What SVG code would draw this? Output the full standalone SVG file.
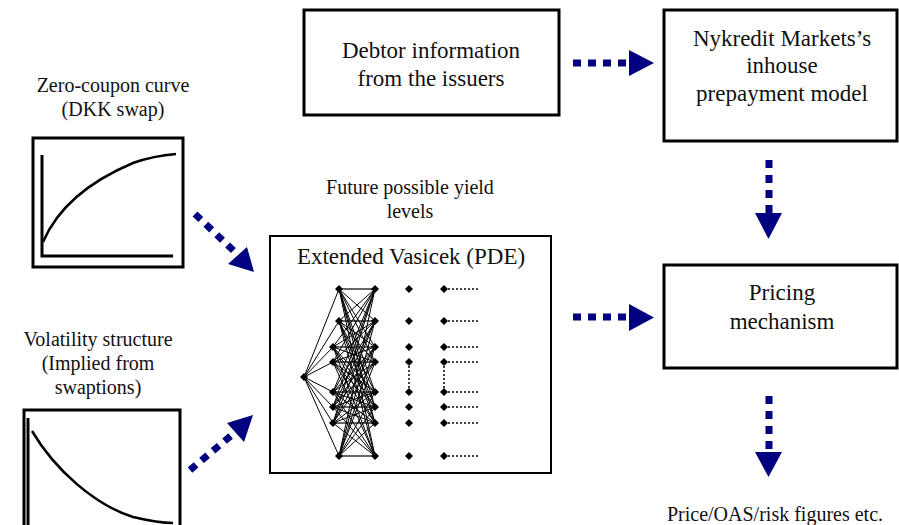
<svg xmlns="http://www.w3.org/2000/svg" xmlns:xlink="http://www.w3.org/1999/xlink" width="899" height="525" viewBox="0 0 899 525">
  <style>
    text { fill: #111; text-anchor: middle; }
    .big { font-size: 23px; }
    .small { font-size: 20px; }
    .box { fill: #fff; stroke: #000; stroke-width: 3; }
    .thin { fill: #fff; stroke: #000; stroke-width: 2; }
    .axis { fill: none; stroke: #000; stroke-width: 3; }
    .curve { fill: none; stroke: #000; stroke-width: 2.5; }
    .flow { fill: none; stroke: #000080; stroke-width: 7; stroke-dasharray: 8 7; }
    .head { fill: #000080; }
    .edge { fill: none; stroke: #000; stroke-width: 1; }
    .same { fill: none; stroke: #666; stroke-width: 2; }
    .dots { fill: none; stroke: #000; stroke-width: 1.5; stroke-dasharray: 2 2; }
  </style>
  <defs>
    <path id="dia" d="M0,-4 L4,0 L0,4 L-4,0Z" fill="#000"/>
  </defs>

  <rect width="899" height="525" fill="#fff"/>

  <g font-family="'Liberation Serif', 'DejaVu Serif', serif">
  <!-- input: zero-coupon curve -->
  <g id="zero-coupon">
    <text class="small" x="113" y="92">Zero-coupon curve</text>
    <text class="small" x="113" y="116">(DKK swap)</text>
    <rect class="box" x="33" y="138" width="150" height="129"/>
    <path class="axis" d="M42,155 V256 H173"/>
    <path class="curve" d="M43,242 C58,207 88,182 133,163 C150,157 163,155 176,154"/>
  </g>

  <!-- input: volatility structure -->
  <g id="volatility">
    <text class="small" x="98" y="346">Volatility structure</text>
    <text class="small" x="98" y="370">(Implied from</text>
    <text class="small" x="98" y="394">swaptions)</text>
    <rect class="box" x="24" y="410" width="156" height="130"/>
    <path class="axis" d="M28,418 V530"/>
    <path class="curve" d="M32,431 C55,470 95,505 133,517 C150,521 162,523 173,523"/>
  </g>

  <!-- input: debtor information -->
  <g id="debtor">
    <rect class="box" x="304" y="10" width="255" height="105"/>
    <text class="big" x="431" y="58">Debtor information</text>
    <text class="big" x="431" y="86">from the issuers</text>
  </g>

  <!-- prepayment model -->
  <g id="prepayment">
    <rect class="box" x="664" y="10" width="233" height="131"/>
    <text class="big" x="782" y="46">Nykredit Markets’s</text>
    <text class="big" x="782" y="73">inhouse</text>
    <text class="big" x="782" y="101">prepayment model</text>
  </g>

  <!-- pricing -->
  <g id="pricing">
    <rect class="box" x="664" y="265" width="233" height="103"/>
    <text class="big" x="782" y="300">Pricing</text>
    <text class="big" x="782" y="329">mechanism</text>
  </g>

  <!-- output -->
  <g id="output">
    <text class="small" x="775" y="521">Price/OAS/risk figures etc.</text>
  </g>

  <!-- short-rate lattice -->
  <g id="vasicek">
    <text class="small" x="410" y="194">Future possible yield</text>
    <text class="small" x="410" y="218">levels</text>
    <rect class="thin" x="270" y="236" width="281" height="237"/>
    <text class="big" x="411" y="264">Extended Vasicek (PDE)</text>

    <!-- root to first time step -->
    <path class="edge" d="M304 377L339 289M304 377L339 321M304 377L333 347M304 377L333 362M304 377L333 392M304 377L333 407M304 377L333 423M304 377L339 456"/>
    <!-- first to second time step -->
    <path class="same" d="M339 289H375M339 321H375M333 347H375M333 362H375M333 392H375M333 407H375M333 423H375M339 456H375"/>
    <path class="edge" d="M339 289L375 321M339 289L375 347M339 289L375 362M339 289L375 392M339 289L375 407M339 289L375 423M339 289L375 456
      M339 321L375 289M339 321L375 347M339 321L375 362M339 321L375 392M339 321L375 407M339 321L375 423M339 321L375 456
      M333 347L375 289M333 347L375 321M333 347L375 362M333 347L375 392M333 347L375 407M333 347L375 423M333 347L375 456
      M333 362L375 289M333 362L375 321M333 362L375 347M333 362L375 392M333 362L375 407M333 362L375 423M333 362L375 456
      M333 392L375 289M333 392L375 321M333 392L375 347M333 392L375 362M333 392L375 407M333 392L375 423M333 392L375 456
      M333 407L375 289M333 407L375 321M333 407L375 347M333 407L375 362M333 407L375 392M333 407L375 423M333 407L375 456
      M333 423L375 289M333 423L375 321M333 423L375 347M333 423L375 362M333 423L375 392M333 423L375 407M333 423L375 456
      M339 456L375 289M339 456L375 321M339 456L375 347M339 456L375 362M339 456L375 392M339 456L375 407M339 456L375 423"/>
    <!-- later steps, continuation dots -->
    <path class="dots" d="M409 362V392M444 362V392M448 289H478M448 321H478M448 347H478M448 362H478M448 392H478M448 407H478M448 423H478M448 456H478"/>

    <use xlink:href="#dia" x="304" y="377"/>
    <use xlink:href="#dia" x="339" y="289"/><use xlink:href="#dia" x="339" y="321"/>
    <use xlink:href="#dia" x="333" y="347"/><use xlink:href="#dia" x="333" y="362"/>
    <use xlink:href="#dia" x="333" y="392"/><use xlink:href="#dia" x="333" y="407"/>
    <use xlink:href="#dia" x="333" y="423"/><use xlink:href="#dia" x="339" y="456"/>
    <g>
      <use xlink:href="#dia" x="375" y="289"/><use xlink:href="#dia" x="375" y="321"/>
      <use xlink:href="#dia" x="375" y="347"/><use xlink:href="#dia" x="375" y="362"/>
      <use xlink:href="#dia" x="375" y="392"/><use xlink:href="#dia" x="375" y="407"/>
      <use xlink:href="#dia" x="375" y="423"/><use xlink:href="#dia" x="375" y="456"/>
    </g>
    <g>
      <use xlink:href="#dia" x="409" y="289"/><use xlink:href="#dia" x="409" y="321"/>
      <use xlink:href="#dia" x="409" y="347"/><use xlink:href="#dia" x="409" y="362"/>
      <use xlink:href="#dia" x="409" y="392"/><use xlink:href="#dia" x="409" y="407"/>
      <use xlink:href="#dia" x="409" y="423"/><use xlink:href="#dia" x="409" y="456"/>
    </g>
    <g>
      <use xlink:href="#dia" x="444" y="289"/><use xlink:href="#dia" x="444" y="321"/>
      <use xlink:href="#dia" x="444" y="347"/><use xlink:href="#dia" x="444" y="362"/>
      <use xlink:href="#dia" x="444" y="392"/><use xlink:href="#dia" x="444" y="407"/>
      <use xlink:href="#dia" x="444" y="423"/><use xlink:href="#dia" x="444" y="456"/>
    </g>
  </g>
  </g>

  <!-- connectors -->
  <g id="connectors">
    <!-- debtor -> prepayment -->
    <line class="flow" x1="573" y1="63" x2="627" y2="63"/>
    <polygon class="head" points="629,50 654,63 629,76"/>
    <!-- lattice -> pricing -->
    <line class="flow" x1="573" y1="317" x2="627" y2="317"/>
    <polygon class="head" points="629,304 654,317.5 629,331"/>
    <!-- prepayment -> pricing -->
    <line class="flow" x1="769" y1="160" x2="769" y2="213"/>
    <polygon class="head" points="755,213 782,213 768.5,239"/>
    <!-- pricing -> output -->
    <line class="flow" x1="769" y1="396" x2="769" y2="450"/>
    <polygon class="head" points="755,452 782,452 768.5,477"/>
    <!-- zero-coupon -> lattice -->
    <line class="flow" x1="195" y1="214" x2="236" y2="253"/>
    <polygon class="head" points="228,264 247,247 254,272"/>
    <!-- volatility -> lattice -->
    <line class="flow" x1="190" y1="470" x2="233" y2="434"/>
    <polygon class="head" points="227,423 244,442 253,415"/>
  </g>
</svg>
